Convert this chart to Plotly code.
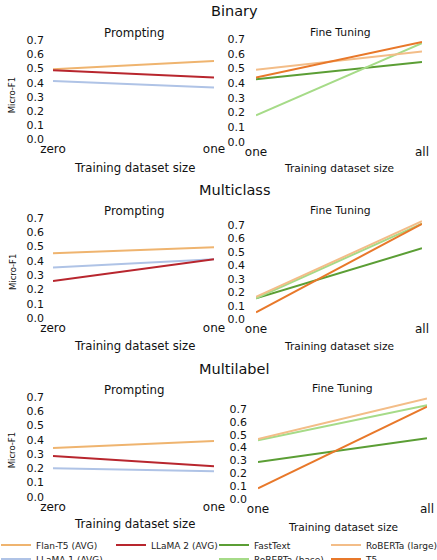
import plotly.graph_objects as go

# ---------------- data ----------------
prompt_x = ["zero", "one"]
ft_x = ["one", "all"]

bin_flan = [0.495, 0.553]
bin_llama1 = [0.413, 0.366]
bin_llama2 = [0.488, 0.437]
bin_fasttext = [0.426, 0.545]
bin_rob_base = [0.18, 0.673]
bin_rob_large = [0.492, 0.616]
bin_t5 = [0.438, 0.682]

mc_flan = [0.452, 0.494]
mc_llama1 = [0.353, 0.41]
mc_llama2 = [0.26, 0.41]
mc_fasttext = [0.156, 0.527]
mc_rob_base = [0.156, 0.71]
mc_rob_large = [0.166, 0.728]
mc_t5 = [0.052, 0.708]

ml_flan = [0.342, 0.391]
ml_llama1 = [0.2, 0.178]
ml_llama2 = [0.286, 0.213]
ml_fasttext = [0.288, 0.472]
ml_rob_base = [0.456, 0.73]
ml_rob_large = [0.466, 0.782]
ml_t5 = [0.083, 0.718]

y_ticks = [0.0, 0.1, 0.2, 0.3, 0.4, 0.5, 0.6, 0.7]
task_titles = ["Binary", "Multiclass", "Multilabel"]

# ---------------- styles ----------------
COL = {
    "Flan-T5 (AVG)": "#efb46f",
    "LLaMA 1 (AVG)": "#afc3e6",
    "LLaMA 2 (AVG)": "#b8262e",
    "FastText": "#5b9e35",
    "RoBERTa (base)": "#a6db88",
    "RoBERTa (large)": "#f3bd88",
    "T5": "#e8782a",
}
LEG = {  # legend id per series (one legend per entry, arranged as columns)
    "Flan-T5 (AVG)": "legend",
    "LLaMA 2 (AVG)": "legend2",
    "FastText": "legend3",
    "RoBERTa (large)": "legend4",
    "LLaMA 1 (AVG)": "legend5",
    "RoBERTa (base)": "legend6",
    "T5": "legend7",
}
FONT = "DejaVu Sans"
W, H = 437, 560


def fx(px):
    return px / W


def fy(py):
    return 1 - py / H


prompt_series = [
    ("Flan-T5 (AVG)", [bin_flan, mc_flan, ml_flan]),
    ("LLaMA 1 (AVG)", [bin_llama1, mc_llama1, ml_llama1]),
    ("LLaMA 2 (AVG)", [bin_llama2, mc_llama2, ml_llama2]),
]
ft_series = [
    ("FastText", [bin_fasttext, mc_fasttext, ml_fasttext]),
    ("RoBERTa (base)", [bin_rob_base, mc_rob_base, ml_rob_base]),
    ("RoBERTa (large)", [bin_rob_large, mc_rob_large, ml_rob_large]),
    ("T5", [bin_t5, mc_t5, ml_t5]),
]

# panel geometry (pixels): x extent, pixel of y=0, px per 0.1, top value
panels = [
    dict(x=(53, 214), y0=139.3, unit=14.14, top=0.72),
    dict(x=(256, 422), y0=141.7, unit=14.63, top=0.70),
    dict(x=(53, 214), y0=318.3, unit=14.38, top=0.72),
    dict(x=(256, 422), y0=319.3, unit=13.48, top=0.74),
    dict(x=(53, 214), y0=496.7, unit=14.24, top=0.72),
    dict(x=(258, 427), y0=499.0, unit=12.86, top=0.80),
]

fig = go.Figure()
layout = {}
for i, p in enumerate(panels):
    n = i + 1
    xa = "xaxis" if n == 1 else f"xaxis{n}"
    ya = "yaxis" if n == 1 else f"yaxis{n}"
    xr = "x" if n == 1 else f"x{n}"
    yr = "y" if n == 1 else f"y{n}"
    row = i // 2
    is_prompt = i % 2 == 0
    cats = prompt_x if is_prompt else ft_x
    top_px = p["y0"] - p["top"] * 10 * p["unit"]
    layout[xa] = dict(
        domain=[fx(p["x"][0]), fx(p["x"][1])], anchor=yr, type="category",
        categoryorder="array", categoryarray=cats, range=[0, 1],
        showgrid=False, zeroline=False, showline=False, ticks="",
        tickfont=dict(family=FONT, size=12, color="#111"),
        ticklabelstandoff=1,
    )
    layout[ya] = dict(
        domain=[fy(p["y0"]), fy(top_px)], anchor=xr, range=[0, p["top"]],
        tickvals=y_ticks, tickformat=".1f",
        showgrid=False, zeroline=False, showline=False, ticks="",
        tickfont=dict(family=FONT, size=11, color="#111"),
        ticklabelstandoff=8 if is_prompt else 10,
    )
    series = prompt_series if is_prompt else ft_series
    for name, vals in series:
        fig.add_trace(go.Scatter(
            x=cats, y=vals[row], mode="lines", name=name,
            line=dict(color=COL[name], width=2),
            xaxis=xr, yaxis=yr, legend=LEG[name],
            showlegend=(row == 0), hoverinfo="skip",
        ))

# legends: one entry each, positioned as columns
leg_pos = {
    "legend": (-4, 545), "legend2": (111, 545), "legend3": (214, 545), "legend4": (326, 545),
    "legend5": (-4, 559), "legend6": (214, 559), "legend7": (326, 559),
}
for key, (px, py) in leg_pos.items():
    layout[key] = dict(
        x=fx(px), y=fy(py), xanchor="left", yanchor="middle",
        font=dict(family=FONT, size=9, color="#222"),
        bgcolor="rgba(0,0,0,0)", borderwidth=0,
    )

ann = []
def text(s, x, y, size, angle=0):
    ann.append(dict(text=s, x=fx(x), y=fy(y), xref="paper", yref="paper",
                    showarrow=False, xanchor="center", yanchor="middle",
                    textangle=angle, font=dict(family=FONT, size=size, color="#111")))

for t, ty in zip(task_titles, [11, 189.5, 368.5]):
    text(t, 234, ty, 14.5)
for ty in [33.3, 211, 390]:
    text("Prompting", 134, ty, 11.8)
for tx, ty in [(340, 32.3), (340, 210), (342.5, 388.3)]:
    text("Fine Tuning", tx, ty, 10.8)
for ty in [167.7, 345.7, 524.3]:
    text("Training dataset size", 134, ty, 11.7)
for tx, ty in [(339, 167.7), (339, 346), (343, 526.7)]:
    text("Training dataset size", tx, ty, 10.6)
for ty in [95, 271.7, 450]:
    text("Micro-F1", 12.3, ty, 8.5, angle=-90)

fig.update_layout(
    **layout,
    annotations=ann,
    width=W, height=H,
    margin=dict(l=0, r=0, t=0, b=0, autoexpand=False),
    paper_bgcolor="white", plot_bgcolor="white",
    font=dict(family=FONT),
)

fig.write_html("out.html",
               config={"displayModeBar": False},
               post_script="document.body.style.margin='0';document.body.style.overflow='hidden';")
